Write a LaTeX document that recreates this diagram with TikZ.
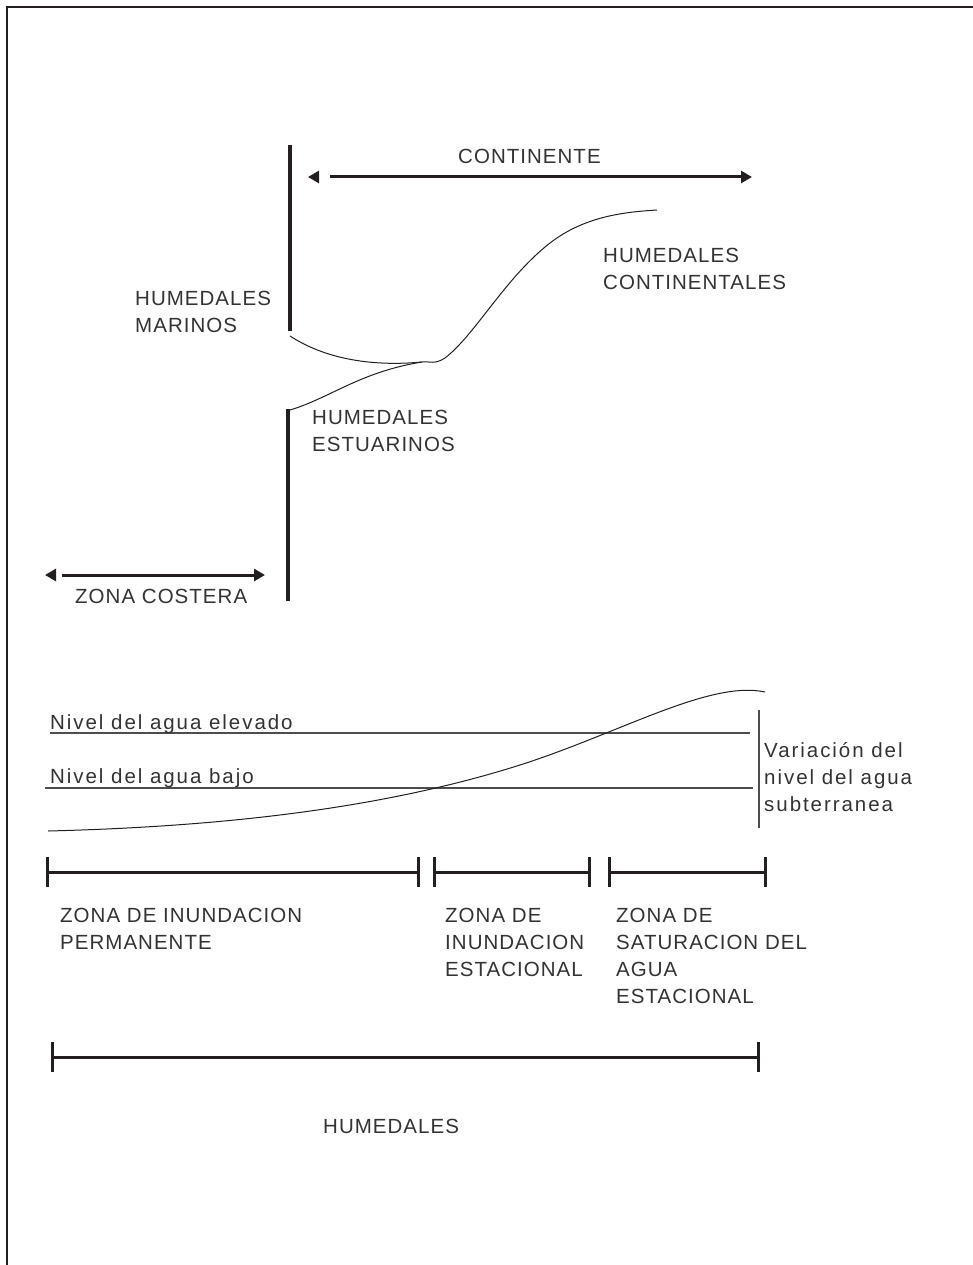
\documentclass[tikz,border=0pt]{standalone}
\usepackage{fontspec}
\setmainfont{Liberation Sans}[LetterSpace=5]
\newfontfamily\widefont{Liberation Sans}[LetterSpace=9.5]
\usetikzlibrary{arrows.meta}
\definecolor{ink}{HTML}{231F20}
\definecolor{txt}{HTML}{333333}
\tikzset{
  lbl/.style={anchor=base west, inner sep=0pt, align=left, text=txt,
    font=\fontsize{20.5}{27}\selectfont},
  lowlbl/.style={lbl, font=\widefont\fontsize{20.5}{27}\selectfont},
  frame/.style={draw=ink, line width=2.5pt},
  wall/.style={draw=ink, line width=4pt},
  span/.style={draw=ink, line width=3pt},
  thin/.style={draw=ink, line width=1pt},
  level/.style={draw=ink!80, line width=1.2pt},
  tickbar/.style={draw=ink, line width=3pt, {Bar[width=30pt,line width=3pt]}-{Bar[width=30pt,line width=3pt]}},
  tip/.style={-{Triangle[length=11pt,width=12pt]}}
}
\begin{document}
\begin{tikzpicture}[x=1pt,y=-1pt]
\useasboundingbox (0,0) rectangle (973,1265);
% frame
\coordinate (fTR) at (973,7);
\coordinate (fTL) at (7,7);
\coordinate (fBL) at (7,1265);
\draw[frame] (fTR) -- (fTL) -- (fBL);

% upper diagram
\coordinate (w1a) at (290,145); \coordinate (w1b) at (290,331);
\coordinate (w2a) at (288,409); \coordinate (w2b) at (288,601);
\draw[wall] (w1a) -- (w1b);
\draw[wall] (w2a) -- (w2b);

\coordinate (cLt) at (308,177); \coordinate (cLb) at (319,177);
\coordinate (cL) at (330,177); \coordinate (cR) at (752,177);
\draw[span,tip] (cL) -- (cR);
\draw[span,tip] (cLb) -- (cLt);
\node[lbl] (cont) at (458,164) {CONTINENTE};

\coordinate (zLt) at (45,575); \coordinate (zLb) at (56,575);
\coordinate (zL) at (62,575); \coordinate (zR) at (265,575);
\draw[span,tip] (zL) -- (zR);
\draw[span,tip] (zLb) -- (zLt);
\node[lbl] (zc) at (75,603) {ZONA COSTERA};

\coordinate (m0) at (290,336);
\coordinate (mj) at (422,362);
\coordinate (e0) at (290,410);
\coordinate (cEnd) at (657,210);
\draw[thin] (m0) .. controls (330,362) and (380,366) .. (mj)
  .. controls (430,361) and (434,365) .. (445,358)
  .. controls (475,335) and (505,278) .. (550,243)
  .. controls (585,216) and (625,212) .. (cEnd);
\draw[thin] (e0) .. controls (330,398) and (360,372) .. (mj);

\node[lbl] (hm) at (135,332) {HUMEDALES\\MARINOS};
\node[lbl] (hc) at (603,289) {HUMEDALES\\CONTINENTALES};
\node[lbl] (he) at (312,451) {HUMEDALES\\ESTUARINOS};

% lower diagram
\coordinate (hiL) at (50,733); \coordinate (hiR) at (750,733);
\coordinate (loL) at (45,788); \coordinate (loR) at (753,788);
\draw[level] (hiL) -- (hiR);
\draw[level] (loL) -- (loR);
\node[lowlbl] (nhi) at (50,729) {Nivel del agua elevado};
\node[lowlbl] (nlo) at (50,783) {Nivel del agua bajo};

\coordinate (vT) at (759,710); \coordinate (vB) at (759,828);
\draw[level] (vT) -- (vB);
\node[lowlbl] (var) at (764,811) {Variación del\\nivel del agua\\subterranea};

\coordinate (g0) at (48,831);
\coordinate (g1) at (765,692);
\draw[thin] (g0) .. controls (250,826) and (400,803) .. (520,765)
  .. controls (620,733) and (710,680) .. (g1);

\coordinate (b1L) at (46,872); \coordinate (b1R) at (420,872);
\coordinate (b2L) at (433,872); \coordinate (b2R) at (591,872);
\coordinate (b3L) at (608,872); \coordinate (b3R) at (767,872);
\draw[tickbar] (b1L) -- (b1R);
\draw[tickbar] (b2L) -- (b2R);
\draw[tickbar] (b3L) -- (b3R);

\node[lbl] (z1) at (60,949) {ZONA DE INUNDACION\\PERMANENTE};
\node[lbl] (z2) at (445,976) {ZONA DE\\INUNDACION\\ESTACIONAL};
\node[lbl] (z3) at (616,1003) {ZONA DE\\SATURACION DEL\\AGUA\\ESTACIONAL};

\coordinate (hL) at (51,1057); \coordinate (hR) at (760,1057);
\draw[tickbar] (hL) -- (hR);
\node[lbl] (hum) at (323,1133) {HUMEDALES};
\end{tikzpicture}
\end{document}
